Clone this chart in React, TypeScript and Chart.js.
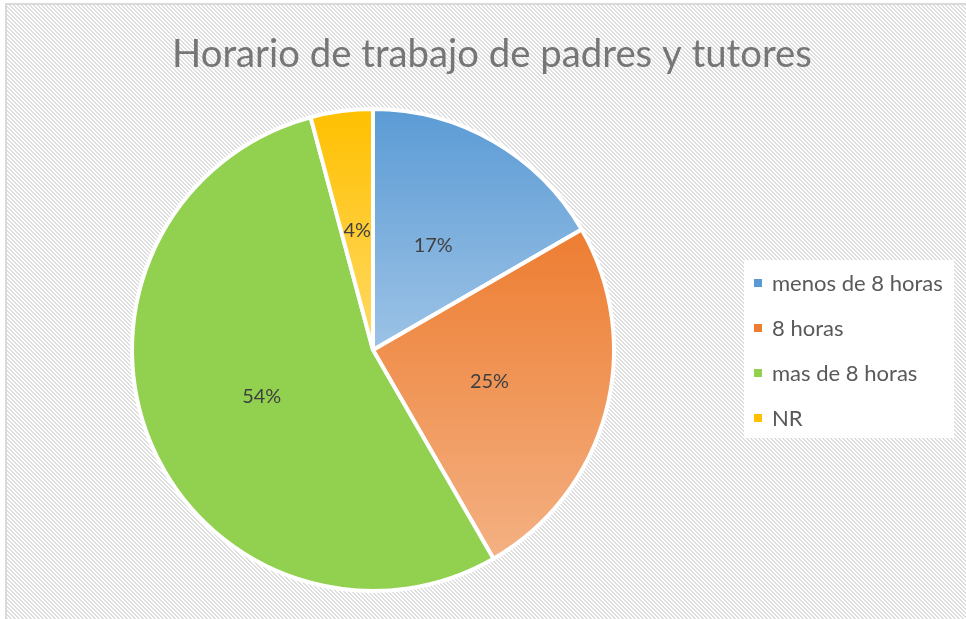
import React, { useEffect, useRef } from 'react';
import { Chart, registerables } from 'chart.js';

Chart.register(...registerables);

const chartTitle = 'Horario de trabajo de padres y tutores';
const categories = ['menos de 8 horas', '8 horas', 'mas de 8 horas', 'NR'];
const values = [4, 6, 13, 1];
const topColors = ['#5B9BD5', '#ED7D31', '#92D050', '#FFC000'];
const bottomColors = ['#9DC3E6', '#F4B183', '#92D050', '#FFD966'];

const BORDER = 4;
const FONT = 'Lato, "Open Sans", sans-serif';

const total = values.reduce((s, v) => s + v, 0);
const percentLabels = values.map((v) => `${Math.round((v / total) * 100)}%`);

function fitFont(ctx: CanvasRenderingContext2D, text: string, targetWidth: number, weight = '') {
  ctx.font = `${weight} 40px ${FONT}`;
  const w = ctx.measureText(text).width;
  return (40 * targetWidth) / w;
}

const decorPlugin = {
  id: 'decor',
  beforeDraw(chart: any) {
    const { ctx, width, height } = chart;
    ctx.save();
    ctx.fillStyle = '#ffffff';
    ctx.fillRect(0, 0, width, height);
    const p = document.createElement('canvas');
    p.width = 4;
    p.height = 4;
    const pc = p.getContext('2d')!;
    pc.fillStyle = '#ffffff';
    pc.fillRect(0, 0, 4, 4);
    pc.fillStyle = '#DEDEDE';
    for (let y = 0; y < 4; y++) {
      for (let x = 0; x < 4; x++) {
        if ((((x - y) % 4) + 4) % 4 < 2) pc.fillRect(x, y, 1, 1);
      }
    }
    const pat = ctx.createPattern(p, 'repeat');
    ctx.fillStyle = pat;
    ctx.fillRect(7, 5, width, height);
    ctx.strokeStyle = '#D9D9D9';
    ctx.lineWidth = 2;
    ctx.strokeRect(6, 4, width + 20, height + 20);
    // legend box
    ctx.fillStyle = '#ffffff';
    ctx.fillRect(744, 260, 210, 178);
    // title
    const ts = fitFont(ctx, chartTitle, 640);
    ctx.font = `${ts}px ${FONT}`;
    ctx.fillStyle = '#767676';
    ctx.textAlign = 'center';
    ctx.textBaseline = 'alphabetic';
    ctx.fillText(chartTitle, 492, 67);
    // legend
    const ls = fitFont(ctx, categories[0], 171);
    ctx.font = `${ls}px ${FONT}`;
    ctx.textAlign = 'left';
    ctx.textBaseline = 'middle';
    categories.forEach((c, i) => {
      const cy = 283 + i * 45;
      ctx.fillStyle = topColors[i];
      ctx.fillRect(754, cy - 4, 8, 8);
      ctx.fillStyle = '#595959';
      ctx.fillText(c, 772, cy + 1);
    });
    ctx.restore();
  },
  afterDatasetsDraw(chart: any) {
    const { ctx } = chart;
    const meta = chart.getDatasetMeta(0);
    ctx.save();
    const fs = fitFont(ctx, '17%', 39);
    ctx.font = `${fs}px ${FONT}`;
    ctx.fillStyle = '#404040';
    ctx.textAlign = 'center';
    ctx.textBaseline = 'middle';
    meta.data.forEach((el: any, i: number) => {
      const pos = el.tooltipPosition();
      ctx.fillText(percentLabels[i], pos.x, pos.y);
    });
    ctx.restore();
  },
};

function sliceGradient(c: any) {
  const i = c.dataIndex;
  const chart = c.chart;
  const a = chart.chartArea;
  if (!a || i == null) return topColors[i ?? 0];
  const cx = (a.left + a.right) / 2;
  const cy = (a.top + a.bottom) / 2;
  const r = Math.max((Math.min(a.right - a.left, a.bottom - a.top) - BORDER) / 2, 0);
  let cum = 0;
  for (let j = 0; j < i; j++) cum += values[j];
  const s = -Math.PI / 2 + (cum / total) * 2 * Math.PI;
  const e = s + (values[i] / total) * 2 * Math.PI;
  let ymin = cy;
  let ymax = cy;
  for (const ang of [s, e]) {
    const y = cy + r * Math.sin(ang);
    ymin = Math.min(ymin, y);
    ymax = Math.max(ymax, y);
  }
  for (let k = -1; k <= 2; k++) {
    const t = -Math.PI / 2 + 2 * Math.PI * k;
    if (t >= s && t <= e) ymin = cy - r;
    const b = Math.PI / 2 + 2 * Math.PI * k;
    if (b >= s && b <= e) ymax = cy + r;
  }
  if (ymax - ymin < 1) return topColors[i];
  const g = chart.ctx.createLinearGradient(0, ymin, 0, ymax);
  g.addColorStop(0, topColors[i]);
  g.addColorStop(1, bottomColors[i]);
  return g;
}

export default function App() {
  const ref = useRef<HTMLCanvasElement | null>(null);
  useEffect(() => {
    if (!ref.current) return;
    const chart = new Chart(ref.current, {
      type: 'pie',
      data: {
        labels: categories,
        datasets: [
          {
            data: values,
            backgroundColor: sliceGradient as any,
            borderColor: '#ffffff',
            borderWidth: BORDER,
          },
        ],
      },
      options: {
        responsive: false,
        animation: false,
        devicePixelRatio: 1,
        layout: { padding: { left: 130, right: 350, top: 107, bottom: 26 } },
        plugins: {
          legend: { display: false },
          title: { display: false },
          tooltip: { enabled: false },
        },
      },
      plugins: [decorPlugin],
    });
    return () => chart.destroy();
  }, []);
  return (
    <div style={{ position: 'absolute', left: 0, top: 0, width: 966, height: 619 }}>
      <canvas ref={ref} width={966} height={619} style={{ display: 'block' }} />
    </div>
  );
}
